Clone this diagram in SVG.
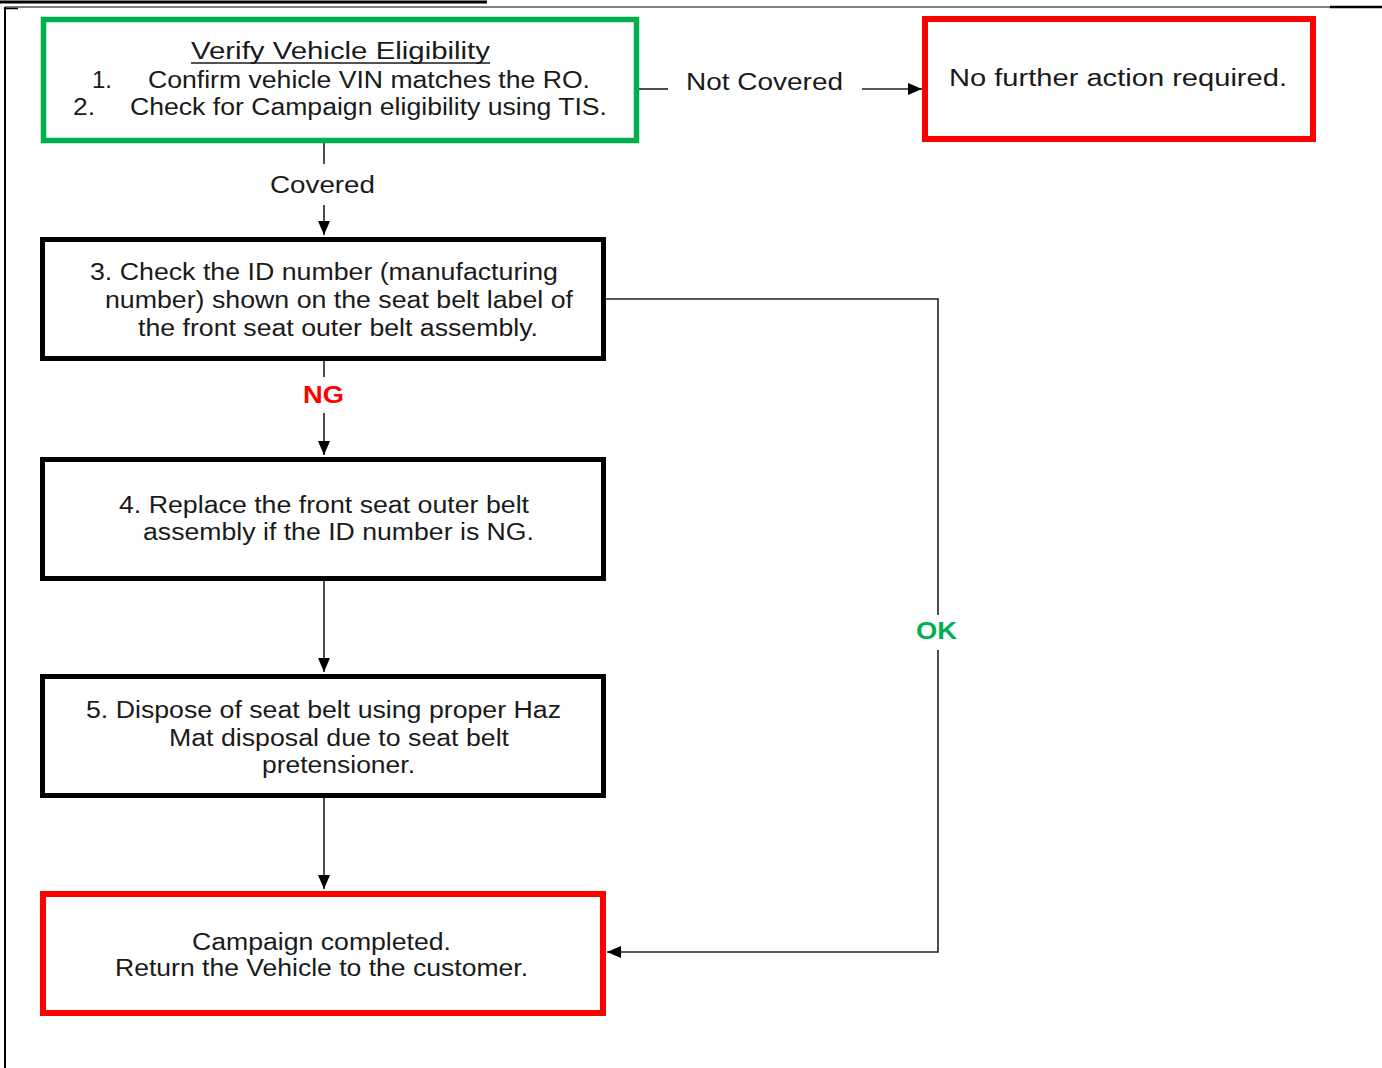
<svg xmlns="http://www.w3.org/2000/svg" width="1382" height="1068" viewBox="0 0 1382 1068">
<style>
.t{font-family:"Liberation Sans",Arial,sans-serif;font-size:23px;fill:#1a1a1a}
.c{stroke:#222;stroke-width:1.6;fill:none}
.blk{fill:#fff;stroke:#000;stroke-width:5}
.red{fill:#fff;stroke:#ff0000;stroke-width:6}
.grn{fill:#fff;stroke:#00b050;stroke-width:5.5}
.lbl{font-family:"Liberation Sans",Arial,sans-serif;font-weight:bold;font-size:23px}
</style>
<defs>
<marker id="ah" markerUnits="userSpaceOnUse" markerWidth="14" markerHeight="14" refX="14" refY="7" orient="auto">
<path d="M0,1 L14,7 L0,13 z" fill="#000"/>
</marker>
</defs>
<rect width="1382" height="1068" fill="#fff"/>
<g id="frame">
<line x1="0" y1="2" x2="487" y2="2" stroke="#000" stroke-width="3"/>
<line x1="5" y1="7" x2="1330" y2="7" stroke="#000" stroke-width="1.2"/>
<line x1="1330" y1="7" x2="1382" y2="7" stroke="#000" stroke-width="2.5"/>
<line x1="5" y1="7" x2="5" y2="1068" stroke="#000" stroke-width="2"/>
<line x1="5" y1="8.5" x2="18" y2="8.5" stroke="#000" stroke-width="1.5"/>
</g>
<g id="connectors">
<line class="c" x1="639" y1="89" x2="668" y2="89"/>
<line class="c" x1="862" y1="89" x2="922" y2="89" marker-end="url(#ah)"/>
<line class="c" x1="324" y1="143" x2="324" y2="164"/>
<line class="c" x1="324" y1="205" x2="324" y2="235" marker-end="url(#ah)"/>
<line class="c" x1="324" y1="361" x2="324" y2="377"/>
<line class="c" x1="324" y1="413" x2="324" y2="455" marker-end="url(#ah)"/>
<line class="c" x1="324" y1="581" x2="324" y2="672" marker-end="url(#ah)"/>
<line class="c" x1="324" y1="798" x2="324" y2="889" marker-end="url(#ah)"/>
<polyline class="c" points="606,299 938,299 938,615"/>
<polyline class="c" points="938,650 938,952 607,952" marker-end="url(#ah)"/>
<text class="t" x="686" y="90" textLength="157" lengthAdjust="spacingAndGlyphs">Not Covered</text>
<text class="t" x="270" y="193" textLength="105" lengthAdjust="spacingAndGlyphs">Covered</text>
<text class="lbl" x="303" y="403" fill="#ff0000" textLength="41" lengthAdjust="spacingAndGlyphs">NG</text>
<text class="lbl" x="916" y="639" fill="#00b050" textLength="41" lengthAdjust="spacingAndGlyphs">OK</text>
</g>
<g id="verify">
<rect class="grn" x="43.5" y="19.5" width="593" height="121"/>
<text class="t" x="191" y="59" textLength="299" lengthAdjust="spacingAndGlyphs">Verify Vehicle Eligibility</text>
<line x1="191" y1="63" x2="490" y2="63" stroke="#1a1a1a" stroke-width="1.5"/>
<text class="t" x="92" y="88" textLength="20" lengthAdjust="spacingAndGlyphs">1.</text>
<text class="t" x="148" y="88" textLength="442" lengthAdjust="spacingAndGlyphs">Confirm vehicle VIN matches the RO.</text>
<text class="t" x="73" y="115" textLength="22" lengthAdjust="spacingAndGlyphs">2.</text>
<text class="t" x="130" y="115" textLength="477" lengthAdjust="spacingAndGlyphs">Check for Campaign eligibility using TIS.</text>
</g>
<g id="notcovered">
<rect class="red" x="925" y="19" width="388" height="120"/>
<text class="t" x="949" y="86" textLength="338" lengthAdjust="spacingAndGlyphs">No further action required.</text>
</g>
<g id="step3">
<rect class="blk" x="42.5" y="239.5" width="561" height="119"/>
<text class="t" x="90" y="280" textLength="468" lengthAdjust="spacingAndGlyphs">3. Check the ID number (manufacturing</text>
<text class="t" x="105" y="308" textLength="468" lengthAdjust="spacingAndGlyphs">number) shown on the seat belt label of</text>
<text class="t" x="138" y="336" textLength="400" lengthAdjust="spacingAndGlyphs">the front seat outer belt assembly.</text>
</g>
<g id="step4">
<rect class="blk" x="42.5" y="459.5" width="561" height="119"/>
<text class="t" x="119" y="513" textLength="410" lengthAdjust="spacingAndGlyphs">4. Replace the front seat outer belt</text>
<text class="t" x="143" y="540" textLength="391" lengthAdjust="spacingAndGlyphs">assembly if the ID number is NG.</text>
</g>
<g id="step5">
<rect class="blk" x="42.5" y="676.5" width="561" height="119"/>
<text class="t" x="86" y="718" textLength="475" lengthAdjust="spacingAndGlyphs">5. Dispose of seat belt using proper Haz</text>
<text class="t" x="169" y="746" textLength="340" lengthAdjust="spacingAndGlyphs">Mat disposal due to seat belt</text>
<text class="t" x="262" y="773" textLength="153" lengthAdjust="spacingAndGlyphs">pretensioner.</text>
</g>
<g id="completed">
<rect class="red" x="43" y="894" width="560" height="119"/>
<text class="t" x="192" y="950" textLength="259" lengthAdjust="spacingAndGlyphs">Campaign completed.</text>
<text class="t" x="115" y="976" textLength="413" lengthAdjust="spacingAndGlyphs">Return the Vehicle to the customer.</text>
</g>
</svg>
